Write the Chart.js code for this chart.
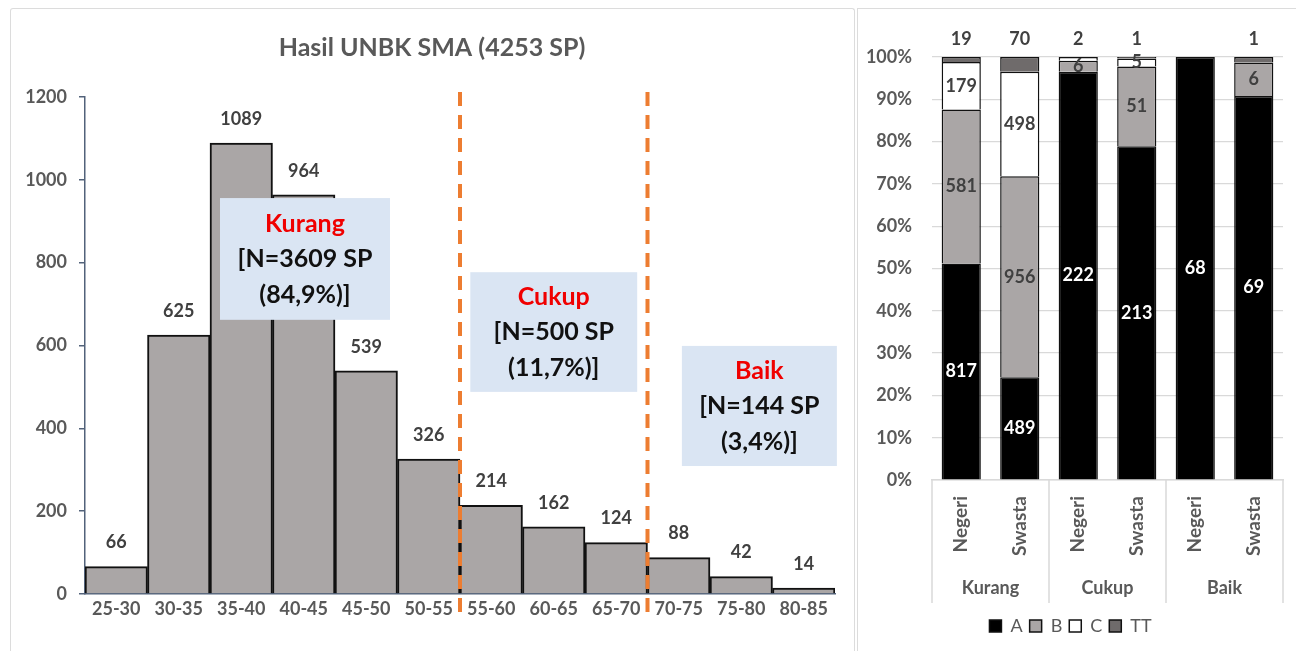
<!DOCTYPE html>
<html>
<head>
<meta charset="utf-8">
<title>Hasil UNBK SMA</title>
<script src="https://cdn.jsdelivr.net/npm/chart.js@4.4.1/dist/chart.umd.min.js"></script>
<style>
  html, body { margin: 0; padding: 0; background: #fff; width: 1296px; height: 651px; overflow: hidden; }
  .panel { position: absolute; border: 1.5px solid #dcdcdc; border-bottom: none; box-sizing: border-box; }
  #leftPanel { left: 10px; top: 8px; width: 845px; height: 660px; border-radius: 3px 3px 0 0; }
  #rightPanel { left: 857px; top: 8px; width: 460px; height: 660px; }
  #histWrap { position: absolute; left: 0; top: 0; width: 856px; height: 651px; }
  #stackWrap { position: absolute; left: 858px; top: 0; width: 438px; height: 651px; }
</style>
</head>
<body>
<div class="panel" id="leftPanel"></div>
<div class="panel" id="rightPanel"></div>
<div id="histWrap"><canvas id="hist"></canvas></div>
<div id="stackWrap"><canvas id="stack"></canvas></div>

<script>
// ---------- histogram data ----------
const scoreBins = ['25-30', '30-35', '35-40', '40-45', '45-50', '50-55',
                   '55-60', '60-65', '65-70', '70-75', '75-80', '80-85'];
const studentCounts = [66, 625, 1089, 964, 539, 326, 214, 162, 124, 88, 42, 14];
const histTitle = 'Hasil UNBK SMA (4253 SP)';
const yTicksHist = [0, 200, 400, 600, 800, 1000, 1200];

// score levels: name, last bin index of each level, student count, share
const levelNames = ['Kurang', 'Cukup', 'Baik'];
const levelLastBin = [5, 8, 11];
const levelCounts = [3609, 500, 144];
const levelShares = ['84,9%', '11,7%', '3,4%'];

// ---------- stacked chart data ----------
const schoolTypes = ['Negeri', 'Swasta', 'Negeri', 'Swasta', 'Negeri', 'Swasta'];
const gradeNames = ['A', 'B', 'C', 'TT'];
const gradeA  = [817, 489, 222, 213, 68, 69];
const gradeB  = [581, 956,   6,  51,  0,  6];
const gradeC  = [179, 498,   2,   5,  0,  0];
const gradeTT = [ 19,  70,   0,   1,  0,  1];
const yTicksPct = [0, 10, 20, 30, 40, 50, 60, 70, 80, 90, 100];

const FONT = 'Lato, "Open Sans", "DejaVu Sans", sans-serif';
const TEXT_GRAY = '#595959';
const LABEL_GRAY = '#404040';
const AXIS_SLATE = '#52627a';

// ---------- histogram ----------
// annotation boxes for the three levels, placed in scale units (bin index / count)
const levelBoxes = [
  { cx: 3.02, top: 956, bottom: 662, w: 2.72 },
  { cx: 7.0,  top: 777, bottom: 488, w: 2.67 },
  { cx: 10.29, top: 599, bottom: 309, w: 2.48 }
];

const histPlugin = {
  id: 'histDecor',
  afterDatasetsDraw(chart) {
    const { ctx, chartArea } = chart;
    const xs = chart.scales.x, ys = chart.scales.y;
    const binW = xs.getPixelForValue(1) - xs.getPixelForValue(0);
    ctx.save();

    // title
    ctx.fillStyle = TEXT_GRAY;
    ctx.font = 'bold 25px ' + FONT;
    ctx.textAlign = 'center';
    ctx.textBaseline = 'middle';
    ctx.fillText(histTitle, 432, 48);

    // value labels above bars
    ctx.font = 'bold 18px ' + FONT;
    ctx.fillStyle = LABEL_GRAY;
    const meta = chart.getDatasetMeta(0);
    meta.data.forEach((bar, i) => {
      ctx.fillText(String(studentCounts[i]), bar.x, bar.y - 24);
    });

    // dashed boundaries between levels
    ctx.strokeStyle = '#ed7d31';
    ctx.lineWidth = 4;
    ctx.setLineDash([14, 9]);
    levelLastBin.slice(0, -1).forEach(idx => {
      const x = (xs.getPixelForValue(idx) + xs.getPixelForValue(idx + 1)) / 2;
      ctx.beginPath();
      ctx.moveTo(x, ys.getPixelForValue(1212));
      ctx.lineTo(x, chartArea.bottom + 27);
      ctx.stroke();
    });
    ctx.setLineDash([]);

    // level boxes
    levelBoxes.forEach((b, i) => {
      const cx = xs.getPixelForValue(b.cx);
      const w = b.w * binW;
      const top = ys.getPixelForValue(b.top);
      const bottom = ys.getPixelForValue(b.bottom);
      ctx.fillStyle = '#dae5f3';
      ctx.fillRect(cx - w / 2, top, w, bottom - top);
      const cy = (top + bottom) / 2;
      ctx.font = 'bold 25px ' + FONT;
      ctx.fillStyle = '#f00000';
      ctx.fillText(levelNames[i], cx, cy - 35);
      ctx.fillStyle = '#111111';
      ctx.fillText('[N=' + levelCounts[i] + ' SP', cx, cy);
      ctx.fillText('(' + levelShares[i] + ')]', cx, cy + 36);
    });
    ctx.restore();
  }
};

new Chart(document.getElementById('hist'), {
  type: 'bar',
  data: {
    labels: scoreBins,
    datasets: [{
      data: studentCounts,
      backgroundColor: '#aaa6a6',
      borderColor: '#111111',
      borderWidth: 2,
      borderSkipped: 'bottom',
      categoryPercentage: 1.0,
      barPercentage: 1.0
    }]
  },
  options: {
    responsive: true,
    maintainAspectRatio: false,
    animation: false,
    layout: { padding: { top: 97, right: 21, left: 0, bottom: 0 } },
    plugins: { legend: { display: false }, tooltip: { enabled: false } },
    scales: {
      x: {
        grid: { display: false, drawTicks: false },
        border: { display: true, color: AXIS_SLATE, width: 1.5 },
        ticks: { color: TEXT_GRAY, font: { family: FONT, size: 18, weight: 'bold' }, padding: 4, maxRotation: 0, minRotation: 0 },
        afterFit(scale) { scale.height = 57; }
      },
      y: {
        min: 0, max: 1200,
        afterBuildTicks(scale) { scale.ticks = yTicksHist.map(v => ({ value: v })); },
        grid: { display: true, drawOnChartArea: false, drawTicks: true, tickLength: 6, color: AXIS_SLATE, lineWidth: 1.5 },
        border: { display: true, color: AXIS_SLATE, width: 1.5 },
        ticks: { color: TEXT_GRAY, font: { family: FONT, size: 18, weight: 'bold' }, padding: 12, callback: v => String(v) },
        afterFit(scale) { scale.width = 85; }
      }
    }
  },
  plugins: [histPlugin]
});

// ---------- stacked 100% chart ----------
const gradeSeries = [gradeA, gradeB, gradeC, gradeTT];
const totals = schoolTypes.map((_, i) => gradeSeries.reduce((s, g) => s + g[i], 0));
const gradeFill = ['#000000', '#aaa6a6', '#ffffff', '#6f6b6b'];
const gradeText = ['#ffffff', LABEL_GRAY, LABEL_GRAY, LABEL_GRAY];

const stackPlugin = {
  id: 'stackDecor',
  afterDatasetsDraw(chart) {
    const { ctx, chartArea } = chart;
    ctx.save();
    ctx.font = 'bold 18px ' + FONT;
    ctx.textAlign = 'center';
    ctx.textBaseline = 'middle';
    gradeSeries.forEach((series, d) => {
      const meta = chart.getDatasetMeta(d);
      meta.data.forEach((bar, i) => {
        const v = series[i];
        if (!v) return;
        const share = v / totals[i];
        if (d === 3 || share < 0.01) {
          ctx.fillStyle = LABEL_GRAY;
          ctx.fillText(String(v), bar.x, chartArea.top - 18);
        } else {
          ctx.fillStyle = gradeText[d];
          ctx.fillText(String(v), bar.x, (bar.y + bar.base) / 2);
        }
      });
    });

    // category groups below the rotated school-type labels
    const groupW = (chartArea.right - chartArea.left) / levelNames.length;
    ctx.strokeStyle = '#d9d9d9';
    ctx.lineWidth = 1.5;
    for (let k = 0; k <= levelNames.length; k++) {
      const x = chartArea.left + k * groupW;
      ctx.beginPath();
      ctx.moveTo(x, chartArea.bottom);
      ctx.lineTo(x, chartArea.bottom + 123);
      ctx.stroke();
    }
    ctx.fillStyle = TEXT_GRAY;
    ctx.font = 'bold 18px ' + FONT;
    levelNames.forEach((name, k) => {
      ctx.fillText(name, chartArea.left + (k + 0.5) * groupW, chartArea.bottom + 108);
    });
    ctx.restore();
  }
};

new Chart(document.getElementById('stack'), {
  type: 'bar',
  data: {
    labels: schoolTypes,
    datasets: gradeSeries.map((series, d) => ({
      label: gradeNames[d],
      data: series.map((v, i) => v / totals[i] * 100),
      backgroundColor: gradeFill[d],
      borderColor: '#111111',
      borderWidth: 1.5,
      categoryPercentage: 1.0,
      barPercentage: 0.67
    }))
  },
  options: {
    responsive: true,
    maintainAspectRatio: false,
    animation: false,
    layout: { padding: { top: 57, right: 13, left: 0, bottom: 6 } },
    plugins: {
      tooltip: { enabled: false },
      legend: {
        position: 'bottom',
        labels: {
          color: TEXT_GRAY,
          font: { family: FONT, size: 18 },
          boxWidth: 12, boxHeight: 12, padding: 7
        }
      }
    },
    scales: {
      x: {
        stacked: true,
        grid: { display: false, drawTicks: false },
        border: { display: true, color: '#d9d9d9', width: 1.5 },
        ticks: { color: TEXT_GRAY, font: { family: FONT, size: 19, weight: 'bold' }, padding: 16, minRotation: 90, maxRotation: 90 },
        afterFit(scale) {
          const lg = scale.chart.legend;
          scale.height = scale.chart.height - 480 - 6 - (lg ? lg.height : 0);
        }
      },
      y: {
        stacked: true,
        min: 0, max: 100,
        afterBuildTicks(scale) { scale.ticks = yTicksPct.map(v => ({ value: v })); },
        grid: { color: '#d9d9d9', lineWidth: 1.2, drawTicks: false },
        border: { display: false },
        ticks: { color: TEXT_GRAY, font: { family: FONT, size: 18, weight: 'bold' }, padding: 20, callback: v => v + '%' },
        afterFit(scale) { scale.width = 74; }
      }
    }
  },
  plugins: [stackPlugin]
});
</script>
</body>
</html>
